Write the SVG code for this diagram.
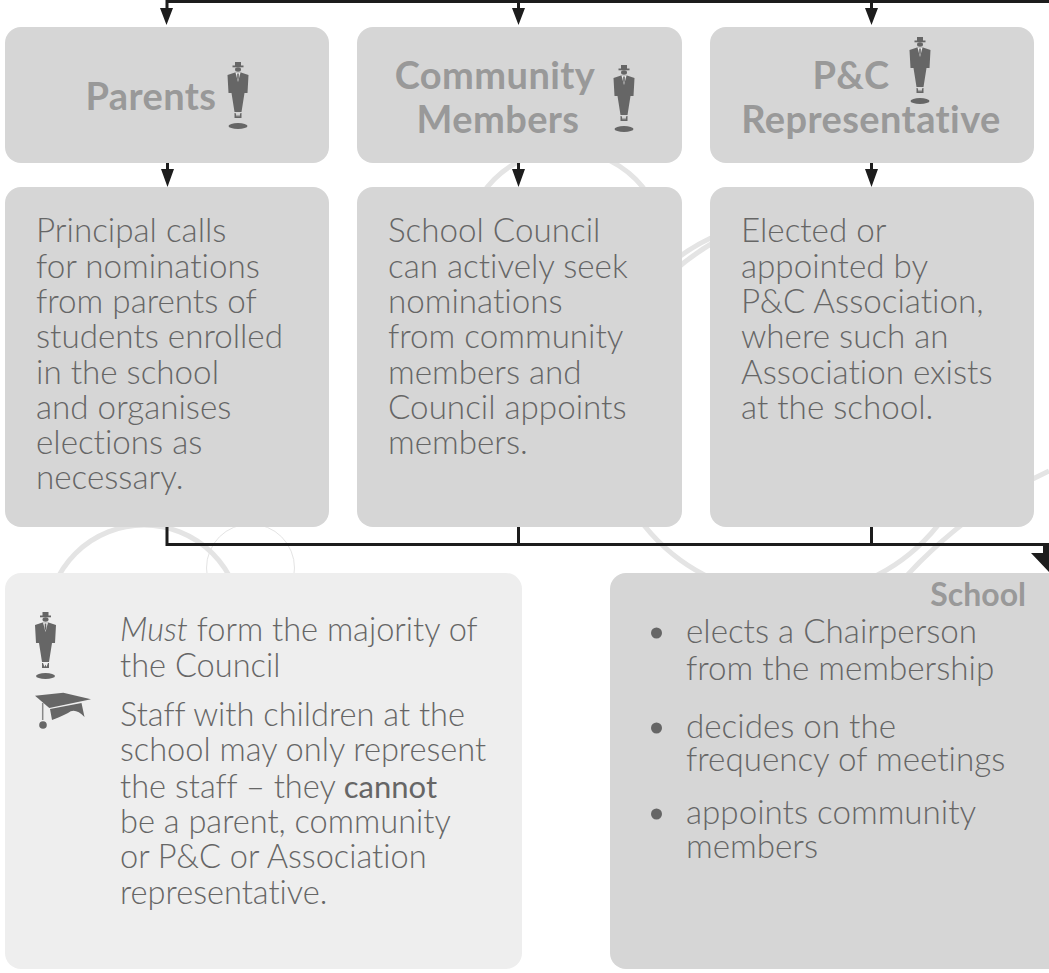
<svg xmlns="http://www.w3.org/2000/svg" width="1049" height="973" viewBox="0 0 1049 973">
<style>
text{font-family:"Lato","Liberation Sans",sans-serif;font-variant-ligatures:none}
.b{fill:#d6d6d6}.l{fill:#eeeeee}
.t{font-size:38px;font-weight:700;fill:#999;text-anchor:middle;letter-spacing:.4px}
.x{font-size:33.200px;font-weight:300;fill:#666}
.n{font-size:32.600px;font-weight:300;fill:#666}
.c{fill:none;stroke:#e4e4e4;stroke-width:5}
.k{fill:none;stroke:#1d1d1d;stroke-width:3}
.a{fill:#1d1d1d}
.i{fill:#666}
</style>
<defs>
<g id="person">
<rect x="-3" y="0" width="6" height="4" class="i"/>
<rect x="-5.500" y="3.500" width="11" height="1.800" class="i"/>
<ellipse cx="0" cy="7.500" rx="3" ry="2.200" class="i"/>
<path class="i" d="M-10.500 13L-3 10.500L3 10.500L10.500 13L9.500 31L6.500 31L3.500 50L-3.500 50L-6.500 31L-9.500 31Z"/>
<path d="M-2.500 10.500L2.500 10.500L0 20Z" fill="#eee"/>
<path class="i" d="M-0.800 11.500L0.800 11.500L0.800 16L0 19L-0.800 16Z"/>
<path class="i" d="M-3.500 51L-2.500 51L-1 55L0 52.500L1 55L2.500 51L3.500 51L3.500 56L-3.500 56Z"/>
<ellipse cx="0" cy="64" rx="9.500" ry="3" class="i"/>
</g>
</defs>
<g id="background-arcs">
<circle class="c" cx="565" cy="250" r="100"/>
<circle class="c" cx="791" cy="408" r="188"/>
<circle class="c" cx="144" cy="622" r="97"/>
<circle cx="250.500" cy="568" r="44" fill="none" stroke="#e4e4e4" stroke-width="1"/>
<path class="c" d="M675 270Q695 253 716 241"/>
<path class="c" d="M900 583Q965 510 1049 471"/>
</g>
<g id="connectors">
<path class="k" d="M167 12V1.500H1047.500V0"/>
<path class="k" d="M518.500 2V12M871.500 2V12M167.500 163V172M518.500 163V172M871.500 163V172"/>
<path class="k" d="M167 527V544.500H1049M518.500 527V544M871.500 527V544"/>
<path class="a" d="M160 8H173L166.500 25ZM512 8H525L518.500 25ZM865 8H878L871.500 25ZM161 169H174L167.500 187ZM512 169H525L518.500 187ZM865 169H878L871.500 187Z"/>
<path class="a" d="M1043 544H1049V572L1031 553H1043Z"/>
</g>
<g id="parents"><rect class="b" x="5" y="27" width="324" height="136" rx="16"/><text class="t" x="151" y="110">Parents</text><use href="#person" x="238" y="62"/></g>
<g id="community"><rect class="b" x="357" y="27" width="325" height="136" rx="16"/><text class="t" x="495" y="88.500">Community</text><text class="t" x="498" y="132.500">Members</text><use href="#person" x="624" y="65"/></g>
<g id="pandc"><rect class="b" x="710" y="27" width="324" height="136" rx="16"/><text class="t" x="851" y="88.500">P&amp;C</text><text class="t" x="871" y="132.500">Representative</text><use href="#person" x="920" y="37"/></g>
<g id="parents-text"><rect class="b" x="5" y="187" width="324" height="340" rx="16"/>
<text class="x"><tspan x="36" y="242">Principal calls</tspan><tspan x="36" y="278">for nominations</tspan><tspan x="36" y="313">from parents of</tspan><tspan x="36" y="348">students enrolled</tspan><tspan x="36" y="384">in the school</tspan><tspan x="36" y="419">and organises</tspan><tspan x="36" y="454">elections as</tspan><tspan x="36" y="489">necessary.</tspan></text></g>
<g id="community-text"><rect class="b" x="357" y="187" width="325" height="340" rx="16"/>
<text class="x"><tspan x="388" y="242">School Council</tspan><tspan x="388" y="278">can actively seek</tspan><tspan x="388" y="313">nominations</tspan><tspan x="388" y="348">from community</tspan><tspan x="388" y="384">members and</tspan><tspan x="388" y="419">Council appoints</tspan><tspan x="388" y="454">members.</tspan></text></g>
<g id="pandc-text"><rect class="b" x="710" y="187" width="324" height="340" rx="16"/>
<text class="x"><tspan x="741" y="242">Elected or</tspan><tspan x="741" y="278">appointed by</tspan><tspan x="741" y="313">P&amp;C Association,</tspan><tspan x="741" y="348">where such an</tspan><tspan x="741" y="384">Association exists</tspan><tspan x="741" y="419">at the school.</tspan></text></g>
<g id="note"><rect class="l" x="5" y="573" width="517" height="396" rx="16"/>
<use href="#person" x="45.500" y="612"/>
<path class="i" d="M35 695.700L63.300 692.700L91 699.300L49.300 708Z"/>
<path class="i" d="M50 709L81.500 703L84.500 717Q75 707 68 713Q58 718 52 720Z"/>
<path d="M42.700 703V720" stroke="#888" stroke-width="1.500"/><circle class="i" cx="43" cy="725" r="3.800"/>
<text class="n"><tspan x="120" y="641" font-style="italic">Must</tspan><tspan> form the majority of</tspan><tspan x="120" y="677">the Council</tspan><tspan x="120" y="726">Staff with children at the</tspan><tspan x="120" y="761">school may only represent</tspan><tspan x="120" y="798">the staff – they </tspan><tspan font-weight="400" font-size="31">cannot</tspan><tspan x="120" y="833">be a parent, community</tspan><tspan x="120" y="868">or P&amp;C or Association</tspan><tspan x="120" y="904">representative.</tspan></text></g>
<g id="school"><rect class="b" x="610" y="573" width="460" height="396" rx="16"/>
<text x="1026" y="606" font-size="32" font-weight="700" fill="#999" text-anchor="end">School</text>
<circle class="i" cx="656.500" cy="633" r="5.500"/><circle class="i" cx="656.500" cy="728" r="5.500"/><circle class="i" cx="656.500" cy="814" r="5.500"/>
<text class="x"><tspan x="686" y="643">elects a Chairperson</tspan><tspan x="686" y="680">from the membership</tspan><tspan x="686" y="738">decides on the</tspan><tspan x="686" y="771">frequency of meetings</tspan><tspan x="686" y="824">appoints community</tspan><tspan x="686" y="858">members</tspan></text></g>
</svg>
